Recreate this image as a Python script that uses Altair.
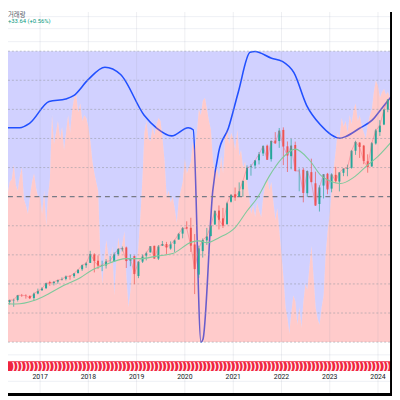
import altair as alt
import pandas as pd

# ---------------- data ----------------
# Monthly candles (S&P 500 style), March 2016 .. March 2024
opens = [
    1937, 2057, 2067, 2093, 2099, 2173, 2171, 2164, 2129, 2200,
    2251, 2285, 2381, 2363, 2388, 2415, 2431, 2477, 2475, 2521, 2583, 2645,
    2683, 2816, 2715, 2634, 2643, 2718, 2705, 2821, 2896, 2926, 2718, 2790,
    2476, 2703, 2798, 2848, 2952, 2751, 2953, 2980, 2909, 2983, 3051, 3144,
    3244, 3236, 2974, 2499, 2869, 3038, 3106, 3289, 3507, 3385, 3296, 3645,
    3764, 3731, 3842, 3992, 4193, 4217, 4300, 4407, 4529, 4317, 4610, 4602,
    4778, 4519, 4364, 4540, 4130, 4150, 3781, 4113, 3937, 3610, 3901, 4087,
    3853, 4070, 3964, 4102, 4166, 4181, 4450, 4578, 4530, 4284, 4202, 4564,
    4743, 4862, 5098,
]
highs = [
    2072, 2111, 2103, 2120, 2178, 2194, 2188, 2169, 2214, 2278,
    2301, 2371, 2401, 2398, 2418, 2454, 2484, 2491, 2519, 2582, 2657, 2695,
    2873, 2835, 2801, 2718, 2742, 2791, 2848, 2917, 2941, 2940, 2815, 2800,
    2708, 2813, 2860, 2949, 2954, 2964, 3028, 3014, 3022, 3050, 3155, 3248,
    3338, 3394, 3137, 2955, 3068, 3233, 3280, 3514, 3588, 3549, 3645, 3760,
    3870, 3951, 3983, 4219, 4238, 4302, 4430, 4537, 4546, 4608, 4743, 4808,
    4818, 4596, 4637, 4593, 4169, 4178, 4140, 4325, 4120, 3906, 4080, 4101,
    4095, 4195, 4110, 4170, 4231, 4458, 4607, 4584, 4541, 4393, 4587, 4794,
    4932, 5111, 5265,
]
lows = [
    1937, 2034, 2025, 1992, 2075, 2148, 2120, 2114, 2084, 2188,
    2245, 2271, 2322, 2328, 2353, 2405, 2407, 2418, 2446, 2520, 2557, 2605,
    2683, 2533, 2586, 2553, 2594, 2699, 2699, 2796, 2864, 2603, 2631, 2347,
    2443, 2681, 2722, 2848, 2750, 2728, 2953, 2822, 2891, 2856, 3051, 3070,
    3215, 2855, 2192, 2447, 2767, 2966, 3101, 3280, 3210, 3233, 3280, 3633,
    3662, 3725, 3723, 3992, 4057, 4165, 4234, 4367, 4306, 4279, 4560, 4495,
    4223, 4115, 4157, 4124, 3811, 3637, 3721, 3955, 3585, 3492, 3698, 3764,
    3795, 3943, 3809, 4049, 4048, 4167, 4385, 4336, 4238, 4104, 4198, 4546,
    4682, 4853, 5057,
]
closes = [
    2060, 2065, 2097, 2099, 2174, 2171, 2168, 2126, 2199, 2239,
    2279, 2364, 2363, 2384, 2412, 2423, 2470, 2472, 2519, 2575, 2648, 2674,
    2824, 2714, 2641, 2648, 2705, 2718, 2816, 2902, 2914, 2712, 2760, 2507,
    2704, 2784, 2834, 2946, 2752, 2942, 2980, 2926, 2977, 3038, 3141, 3231,
    3226, 2954, 2585, 2912, 3044, 3100, 3271, 3500, 3363, 3270, 3622, 3756,
    3714, 3811, 3973, 4181, 4204, 4298, 4395, 4523, 4308, 4605, 4567, 4766,
    4516, 4374, 4530, 4132, 4132, 3785, 4130, 3955, 3586, 3872, 4080, 3840,
    4077, 3970, 4109, 4169, 4180, 4450, 4589, 4508, 4288, 4194, 4568, 4770,
    4846, 5096, 5254,
]

# long moving average (green line)
ma_dates = [
    "2016-03-01", "2016-07-01", "2016-11-15", "2017-03-01", "2017-07-01", "2017-11-01",
    "2018-01-20", "2018-05-01", "2018-10-15", "2019-02-01", "2019-06-01", "2019-10-01",
    "2020-02-20", "2020-04-15", "2020-06-15", "2020-09-15", "2021-01-15", "2021-04-15",
    "2021-07-05", "2021-10-01", "2022-01-01", "2022-04-15", "2022-08-01", "2022-11-01",
    "2023-03-25", "2023-07-01", "2023-10-01", "2024-01-01", "2024-04-16",
]
ma_values = [
    2045, 2035, 2090, 2190, 2330, 2450,
    2560, 2650, 2750, 2750, 2790, 2830,
    3010, 3030, 3000, 3080, 3240, 3500,
    3718, 4050, 4320, 4475, 4300, 4050,
    3934, 4030, 4200, 4360, 4600,
]

# smooth oscillator (blue line), 0..100
osc_dates = [
    "2016-03-04", "2016-07-31", "2016-10-13", "2017-03-10", "2017-07-14", "2017-09-11",
    "2018-01-01", "2018-05-06", "2018-09-02", "2019-02-27", "2019-06-04", "2019-09-23",
    "2020-01-26", "2020-03-04", "2020-05-02", "2020-05-17", "2020-07-30", "2020-09-13",
    "2020-11-25", "2021-02-08", "2021-05-08", "2021-06-14", "2021-10-18", "2022-01-07",
    "2022-04-05", "2022-07-10", "2022-10-22", "2023-03-19", "2023-05-03", "2023-08-15",
    "2023-11-18", "2024-02-01", "2024-04-16",
]
osc_values = [
    73.7, 73.7, 75.2, 82.7, 83.6, 84.7,
    90.3, 94.5, 92.0, 78.0, 73.5, 70.9,
    73.7, 73.0, 0.0, 1.0, 52.0, 65.4,
    73.5, 85.9, 99.6, 99.9, 97.6, 96.5,
    92.6, 81.4, 74.7, 70.1, 70.7, 73.5,
    76.3, 80.5, 84.7,
]

# spiky oscillator (pink / blue fill), twice a month from 2016-03-01
fill_2016 = [45, 38, 50, 53, 51, 55, 56, 61, 54, 52, 57, 60, 49, 47, 44, 50, 55, 58, 53, 50]
fill_2017 = [50, 44, 52, 40, 50, 56, 78, 68, 72, 76, 70, 74, 66, 72, 78, 72, 80, 84, 85, 79, 82, 76, 78, 77]
fill_2018 = [74, 69, 62, 58, 55, 52, 30, 20, 28, 35, 30, 26, 33, 16, 28, 36, 30, 34, 38, 22, 12, 18, 28, 24]
fill_2019 = [26, 34, 45, 58, 72, 76, 70, 69, 74, 71, 75, 77, 76, 70, 62, 50, 52, 48, 50, 46, 41, 49, 52, 55]
fill_2020 = [63, 58, 60, 62, 69, 66, 72, 80, 78, 83, 84, 80, 76, 73, 62, 58, 60, 56, 64, 58, 70, 73, 68, 72]
fill_2021 = [70, 66, 73, 64, 66, 60, 62, 55, 50, 44, 47, 43, 48, 45, 43, 50, 54, 57, 52, 55, 48, 42, 46, 38]
fill_2022 = [30, 22, 12, 8, 3, 10, 16, 14, 6, 12, 5, 14, 20, 18, 26, 33, 22, 12, 8, 6, 12, 16, 30, 38]
fill_2023 = [44, 52, 60, 66, 72, 70, 77, 74, 76, 72, 78, 75, 80, 82, 76, 78, 74, 72, 70, 75, 78, 80, 86, 90]
fill_2024 = [88, 84, 86, 87, 85, 86, 84, 84]

year_labels = ["2017", "2018", "2019", "2020", "2021", "2022", "2023", "2024"]
grid_levels = [0, 10, 20, 30, 40, 60, 70, 80, 90, 100]
mid_level = [50]
title_text = "거래량"
change_text = "+33.64 (+0.56%)"

# ---------------- tables ----------------
months = []
yy, mm = 2016, 3
for _ in closes:
    months.append(f"{yy}-{mm:02d}-15")
    mm += 1
    if mm > 12:
        mm, yy = 1, yy + 1
candles = pd.DataFrame({"date": months, "open": opens, "high": highs,
                        "low": lows, "close": closes})
candles["dir"] = ["up" if c >= o else "down" for o, c in zip(opens, closes)]
markers = candles[candles["date"] >= "2016-06-01"][["date"]]

fill_values = fill_2016 + fill_2017 + fill_2018 + fill_2019 + fill_2020 + fill_2021 + fill_2022 + fill_2023 + fill_2024
fill_dates = []
yy, mm, half = 2016, 3, 0
for _ in fill_values:
    fill_dates.append(f"{yy}-{mm:02d}-{'01' if half == 0 else '16'}")
    half += 1
    if half == 2:
        half = 0
        mm += 1
        if mm > 12:
            mm, yy = 1, yy + 1
fill_df = pd.DataFrame({"date": fill_dates, "v": fill_values})
osc_df = pd.DataFrame({"date": osc_dates, "v": osc_values})
ma_df = pd.DataFrame({"date": ma_dates, "v": ma_values})
years_df = pd.DataFrame({"date": [f"{y}-01-01" for y in year_labels], "label": year_labels})
grid_df = pd.DataFrame({"lvl": grid_levels})
mid_df = pd.DataFrame({"lvl": mid_level})
one = pd.DataFrame({"a": [0]})

# ---------------- scales ----------------
W = H = 392
xs = alt.Scale(domain=[alt.DateTime(year=2016, month=5, date=3),
                       alt.DateTime(year=2024, month=4, date=16)])
osc_s = alt.Scale(domain=[0, 100], range=[337, 40], nice=False, zero=False)
price_s = alt.Scale(domain=[1435, 6018], range=[337, 40], nice=False, zero=False)
X = alt.X("date:T", scale=xs, axis=None)

blue_line = alt.Chart(osc_df).mark_line(color="#2962ff", strokeWidth=1.6, interpolate="monotone").encode(
    x=X, y=alt.Y("v:Q", scale=osc_s, axis=None))
blue_fill = alt.Chart(fill_df).mark_area(color="#0000ff", opacity=0.18).encode(
    x=X, y=alt.Y("v:Q", scale=osc_s, axis=None), y2=alt.datum(100))
pink_fill = alt.Chart(fill_df).mark_area(color="#ff5252", opacity=0.3).encode(
    x=X, y=alt.Y("v:Q", scale=osc_s, axis=None), y2=alt.datum(0))
grid = alt.Chart(grid_df).mark_rule(color="#9598a1", strokeDash=[2, 2], strokeWidth=0.8, opacity=0.7).encode(
    y=alt.Y("lvl:Q", scale=osc_s, axis=None), x=alt.value(0), x2=alt.value(W))
mid = alt.Chart(mid_df).mark_rule(color="#787b86", strokeDash=[5, 4], strokeWidth=1.1).encode(
    y=alt.Y("lvl:Q", scale=osc_s, axis=None), x=alt.value(0), x2=alt.value(W))
vgrid = alt.Chart(years_df).mark_rule(color="#9aa0b4", strokeWidth=1, opacity=0.18).encode(
    x=X, y=alt.value(0), y2=alt.value(389))
top_grid = alt.Chart(pd.DataFrame({"p": [4.7, 17, 30.3, 350, 377]})).mark_rule(
    color="#eef0f5", strokeWidth=1).encode(y=alt.Y("p:Q", scale=None), x=alt.value(0), x2=alt.value(W))

cscale = alt.Scale(domain=["up", "down"], range=["#26a69a", "#ef5350"])
wick = alt.Chart(candles).mark_rule(strokeWidth=0.7).encode(
    x=X, y=alt.Y("low:Q", scale=price_s, axis=None), y2="high:Q",
    color=alt.Color("dir:N", scale=cscale, legend=None))
body = alt.Chart(candles).mark_rule(strokeWidth=2.0).encode(
    x=X, y=alt.Y("open:Q", scale=price_s, axis=None), y2="close:Q",
    color=alt.Color("dir:N", scale=cscale, legend=None))
close_line = alt.Chart(candles).mark_line(color="#f05a6a", strokeWidth=0.8, opacity=0.5).encode(
    x=X, y=alt.Y("close:Q", scale=price_s, axis=None))
ma_line = alt.Chart(ma_df).mark_line(color="#7fc99c", strokeWidth=1.1, interpolate="monotone").encode(
    x=X, y=alt.Y("v:Q", scale=price_s, axis=None))

strip = alt.Chart(one).mark_rect(color="#f0253f").encode(
    x=alt.value(0), x2=alt.value(W), y=alt.value(356.5), y2=alt.value(366.5))
marker_text = alt.Chart(markers).mark_text(text=")", color="white", fontSize=9, fontWeight="bold",
                                           baseline="middle").encode(x=X, y=alt.value(361.5))
ylabels = alt.Chart(years_df).mark_text(fontSize=7, color="#131722", font="Roboto", baseline="middle").encode(
    x=X, y=alt.value(372.5), text="label:N")
title = alt.Chart(one).mark_text(text=title_text, font="Noto Sans CJK KR", fontSize=6.5, color="#555a66",
                                 align="left", baseline="top").encode(x=alt.value(0), y=alt.value(0))
change = alt.Chart(one).mark_text(text=change_text, font="Roboto", fontSize=6, color="#089981",
                                  align="left", baseline="middle").encode(x=alt.value(0), y=alt.value(9.5))
frame_r = alt.Chart(one).mark_rect(color="#000000").encode(
    x=alt.value(390), x2=alt.value(W), y=alt.value(0), y2=alt.value(H))
frame_b = alt.Chart(one).mark_rect(color="#000000").encode(
    x=alt.value(0), x2=alt.value(W), y=alt.value(389), y2=alt.value(H))

chart = alt.layer(
    top_grid, blue_line, blue_fill, pink_fill, grid, mid, vgrid,
    wick, body, close_line, ma_line,
    strip, marker_text, ylabels, title, change, frame_r, frame_b,
).resolve_scale(y="independent").properties(
    width=W, height=H, padding=0, autosize=alt.AutoSizeParams(type="none"),
    background="white",
).configure_view(stroke=None)

chart.save("out.html", embed_options={"renderer": "svg", "actions": False})
